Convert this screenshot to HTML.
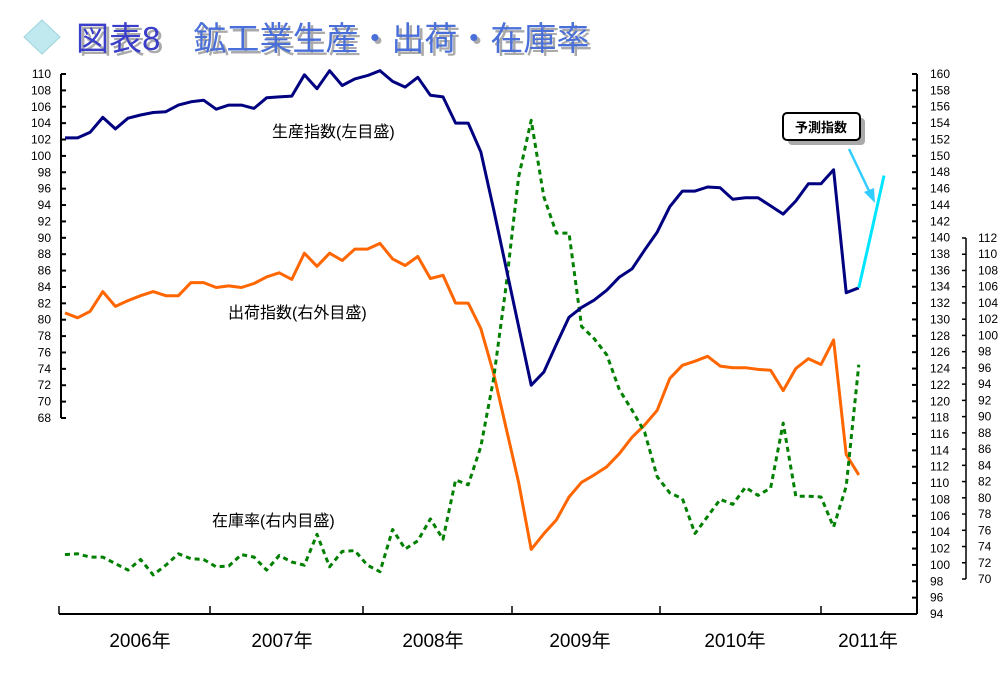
<!DOCTYPE html>
<html><head><meta charset="utf-8"><style>
body{margin:0;background:#fff;}
svg text{font-family:"Liberation Sans","Noto Sans CJK JP",sans-serif;}
</style></head><body>
<svg width="1008" height="684" viewBox="0 0 1008 684" xmlns="http://www.w3.org/2000/svg">
<g>
  <polygon points="42,20 60,37 42,54 24,37" fill="#bfe9ef" stroke="#9fd4de"/>
  <text x="76" y="50" font-size="33" fill="#aaa" font-family="Noto Serif CJK SC, serif" transform="translate(3,3)">図表8　鉱工業生産・出荷・在庫率</text>
  <text x="76" y="50" font-size="33" fill="#4a6fd8" font-family="Noto Serif CJK SC, serif"><tspan fill="#3a3ec8">図表8</tspan>　鉱工業生産・出荷・在庫率</text>
</g>
<g id="axes"></g>
<g id="series"></g>
<text x="272" y="137" font-size="16" font-family="Noto Serif CJK SC, serif">生産指数(左目盛)</text>
<text x="228" y="318" font-size="16" font-family="Noto Serif CJK SC, serif">出荷指数(右外目盛)</text>
<text x="212" y="526" font-size="16" font-family="Noto Serif CJK SC, serif">在庫率(右内目盛)</text>
<g>
  <rect x="788" y="118" width="77" height="27" rx="4" fill="#aaa"/>
  <rect x="783" y="113" width="77" height="27" rx="4" fill="#fff" stroke="#000" stroke-width="2"/>
  <text x="821" y="132" font-size="13" font-weight="bold" text-anchor="middle" font-family="Noto Sans CJK JP, sans-serif">予測指数</text>
  <line x1="849" y1="149" x2="871" y2="195" stroke="#33ccff" stroke-width="2.5"/>
  <polygon points="864,192 875,203 874,188" fill="#33ccff"/>
</g>
<script>
const prodValues=[102.2,102.2,102.9,104.7,103.3,104.6,105.0,105.3,105.4,106.2,106.6,106.8,105.7,106.2,106.2,105.8,107.1,107.2,107.3,109.9,108.2,110.4,108.6,109.4,109.8,110.4,109.1,108.4,109.6,107.4,107.2,104.0,104.0,100.5,93.6,86.4,79.2,72.0,73.6,77.0,80.3,81.5,82.4,83.6,85.2,86.2,88.5,90.7,93.8,95.7,95.7,96.2,96.1,94.7,94.9,94.9,93.9,92.9,94.5,96.6,96.6,98.3,83.3,83.9];
const forecastValues=[83.9,90.7,97.6];
const shipValues=[130.8,130.2,131.0,133.4,131.6,132.3,132.9,133.4,132.9,132.9,134.5,134.5,133.9,134.1,133.9,134.4,135.2,135.7,134.9,138.1,136.5,138.1,137.2,138.6,138.6,139.3,137.4,136.6,137.7,135.0,135.4,132.0,132.0,128.9,123.5,116.8,110.1,101.9,103.8,105.5,108.3,110.1,111.0,112.0,113.6,115.6,117.1,118.9,122.8,124.4,124.9,125.5,124.3,124.1,124.1,123.9,123.8,121.3,124.0,125.2,124.5,127.5,113.5,111.0];
const invValues=[73.0,73.1,72.7,72.7,71.9,71.1,72.4,70.5,71.7,73.1,72.5,72.4,71.5,71.6,73.0,72.7,71.1,72.9,72.1,71.7,75.5,71.5,73.4,73.5,71.7,70.9,76.1,73.7,74.7,77.4,74.9,82.2,81.6,86.3,94.5,106.0,119.5,126.5,117.1,112.6,112.6,101.1,99.6,97.6,93.3,90.8,88.1,82.6,80.6,79.9,75.6,77.7,79.8,79.2,81.3,80.3,81.2,89.2,80.2,80.2,80.1,76.4,81.4,96.4];
const yearLabels=["2006年","2007年","2008年","2009年","2010年","2011年"];
const leftTicks=[110,108,106,104,102,100,98,96,94,92,90,88,86,84,82,80,78,76,74,72,70,68];
const outerTicks=[160,158,156,154,152,150,148,146,144,142,140,138,136,134,132,130,128,126,124,122,120,118,116,114,112,110,108,106,104,102,100,98,96,94];
const innerTicks=[112,110,108,106,104,102,100,98,96,94,92,90,88,86,84,82,80,78,76,74,72,70];

const NS="http://www.w3.org/2000/svg";
const xOf=i=>65+i*12.6;
const yLeft=v=>74+(110-v)*(344/42);
const yOuter=v=>74+(160-v)*(540/66);
const yInner=v=>238+(112-v)*(341/42);
const yearTickX=[59,210,363,512,660,821];
const yearLabelX=[140,282,433,580,735,868];
function mk(tag,attrs,parent){const e=document.createElementNS(NS,tag);for(const k in attrs)e.setAttribute(k,attrs[k]);parent.appendChild(e);return e;}
const axes=document.getElementById('axes'),ser=document.getElementById('series');
let la=mk('line',{x1:61,y1:74,x2:61,y2:418,stroke:'#000','stroke-width':2},axes);


leftTicks.forEach(v=>{const y=yLeft(v);
 mk('line',{x1:61,y1:y,x2:66,y2:y,stroke:'#000','stroke-width':2},axes);
 const t=mk('text',{x:51,y:y+4,'font-size':12,'text-anchor':'end'},axes);t.textContent=v;
 
 });
let oa=mk('line',{x1:917,y1:74,x2:917,y2:614,stroke:'#000','stroke-width':2},axes);


outerTicks.forEach(v=>{const y=yOuter(v);
 mk('line',{x1:912,y1:y,x2:917,y2:y,stroke:'#000','stroke-width':2},axes);
 const t=mk('text',{x:930,y:y+4,'font-size':12},axes);t.textContent=v;
 
 });
let ia=mk('line',{x1:966,y1:238,x2:966,y2:579,stroke:'#000','stroke-width':1.5},axes);


innerTicks.forEach(v=>{const y=yInner(v);
 mk('line',{x1:962,y1:y,x2:966,y2:y,stroke:'#000','stroke-width':1.5},axes);
 const t=mk('text',{x:978,y:y+4,'font-size':12},axes);t.textContent=v;
 
 });
let xa=mk('line',{x1:59,y1:614,x2:917,y2:614,stroke:'#000','stroke-width':2},axes);


yearLabels.forEach((s,k)=>{
 mk('line',{x1:yearTickX[k],y1:606,x2:yearTickX[k],y2:614,stroke:'#000','stroke-width':1.5},axes);
 const t=mk('text',{x:yearLabelX[k],y:647,'font-size':19,'text-anchor':'middle'},axes);t.textContent=s;
 
 });
function line(vals,yf,off,attrs,name){
 const pts=vals.map((v,i)=>xOf(i+off).toFixed(1)+','+yf(v).toFixed(1)).join(' ');
 const p=mk('polyline',Object.assign({points:pts,fill:'none','stroke-linejoin':'round'},attrs),ser);
 
 }
line(shipValues,yOuter,0,{stroke:'#ff6600','stroke-width':3},'shipment-line');
line(invValues,yInner,0,{stroke:'#008000','stroke-width':3,'stroke-dasharray':'5,4'},'inventory-line');
line(prodValues,yLeft,0,{stroke:'#000080','stroke-width':3},'production-line');
line(forecastValues,yLeft,63,{stroke:'#00e5ff','stroke-width':3},'forecast-line');
</script>
</svg>
</body></html>
